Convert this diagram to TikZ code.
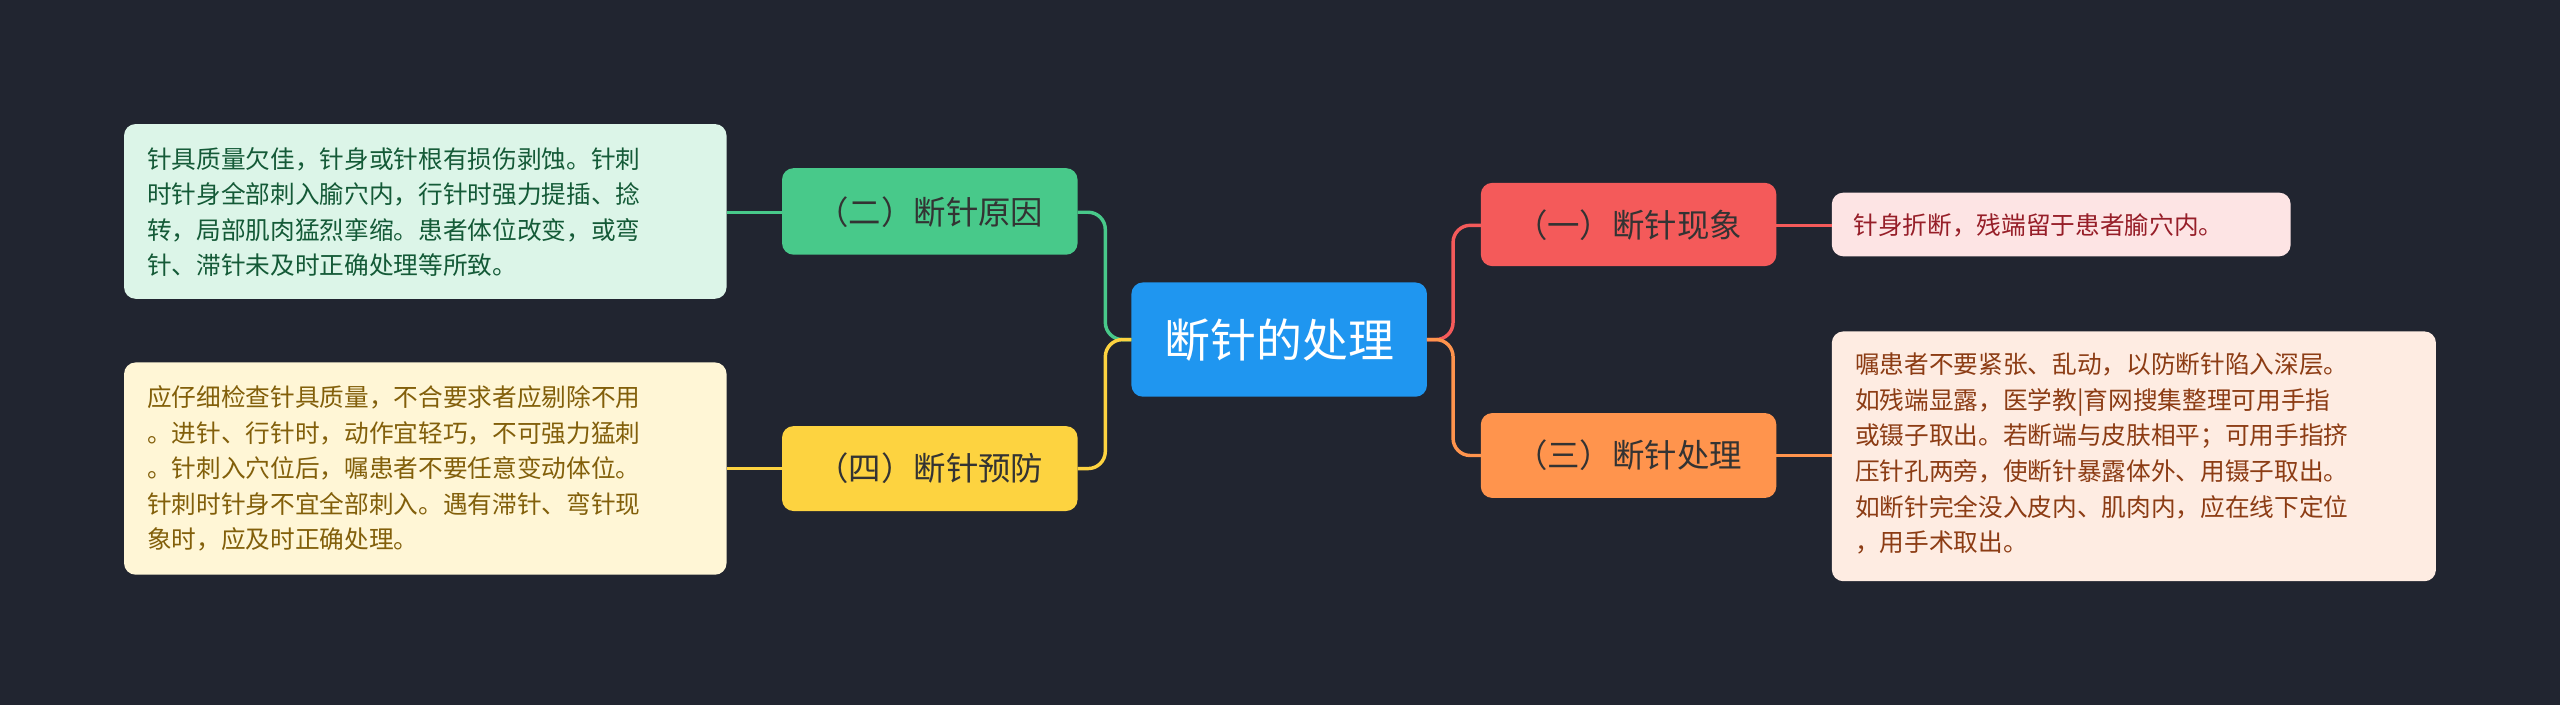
\documentclass[tikz,border=0pt]{standalone}
\usepackage{fontspec}
\setmainfont{Noto Sans CJK SC}
\begin{document}
\begin{tikzpicture}[x=0.02cm,y=-0.02cm,
  leaftxt/.style={font=\fontsize{8.6}{12.4}\selectfont},
  br/.style={font=\fontsize{11.3}{14}\selectfont,text=black!80},
  conn/.style={line width=1.2pt,rounded corners=6pt}]
\definecolor{bg}{RGB}{33,37,48}
\definecolor{cblue}{RGB}{31,150,240}
\definecolor{cred}{RGB}{244,90,90}\definecolor{cora}{RGB}{255,148,77}
\definecolor{cgrn}{RGB}{72,201,138}\definecolor{cyel}{RGB}{253,211,64}
\definecolor{f1}{RGB}{253,228,228}\definecolor{t1}{RGB}{150,30,40}
\definecolor{f3}{RGB}{254,236,226}\definecolor{t3}{RGB}{140,60,20}
\definecolor{f2}{RGB}{220,245,232}\definecolor{t2}{RGB}{20,90,55}
\definecolor{f4}{RGB}{255,246,214}\definecolor{t4}{RGB}{130,95,10}
\fill[bg] (0,0) rectangle (1568,432);
\useasboundingbox (0,0) rectangle (1568,432);
% center
\fill[cblue,rounded corners=4pt] (693,173) rectangle (874,243);
\node[text=white,font=\fontsize{16}{18}\selectfont] (c) at (783.5,208) {断针的处理};
\coordinate (cl) at (693,208); \coordinate (cr) at (874,208);
% branches
\fill[cred,rounded corners=4pt] (907,112) rectangle (1088,163);
\node[br] (b1) at (997.5,138) {（一）断针现象};
\fill[cora,rounded corners=4pt] (907,253) rectangle (1088,305);
\node[br] (b3) at (997.5,279) {（三）断针处理};
\fill[cgrn,rounded corners=4pt] (479,103) rectangle (660,156);
\node[br] (b2) at (569.5,130) {（二）断针原因};
\fill[cyel,rounded corners=4pt] (479,261) rectangle (660,313);
\node[br] (b4) at (569.5,287) {（四）断针预防};
\coordinate (b1l) at (907,138); \coordinate (b1r) at (1088,138);
\coordinate (b3l) at (907,279); \coordinate (b3r) at (1088,279);
\coordinate (b2r) at (660,130); \coordinate (b2l) at (479,130);
\coordinate (b4r) at (660,287); \coordinate (b4l) at (479,287);
% leaves
\fill[f1,rounded corners=4pt] (1122,118) rectangle (1403,157);
\node[leaftxt,text=t1,anchor=west] (l1) at (1129,138) {针身折断，残端留于患者腧穴内。};
\fill[f3,rounded corners=4pt] (1122,203) rectangle (1492,356);
\node[leaftxt,text=t3,anchor=north west,align=left] (l3) at (1130,210) {嘱患者不要紧张、乱动，以防断针陷入深层。\\如残端显露，医学教|育网搜集整理可用手指\\或镊子取出。若断端与皮肤相平；可用手指挤\\压针孔两旁，使断针暴露体外、用镊子取出。\\如断针完全没入皮内、肌肉内，应在线下定位\\，用手术取出。};
\fill[f2,rounded corners=4pt] (76,76) rectangle (445,183);
\node[leaftxt,text=t2,anchor=north west,align=left] (l2) at (84,84) {针具质量欠佳，针身或针根有损伤剥蚀。针刺\\时针身全部刺入腧穴内，行针时强力提插、捻\\转，局部肌肉猛烈挛缩。患者体位改变，或弯\\针、滞针未及时正确处理等所致。};
\fill[f4,rounded corners=4pt] (76,222) rectangle (445,352);
\node[leaftxt,text=t4,anchor=north west,align=left] (l4) at (84,230) {应仔细检查针具质量，不合要求者应剔除不用\\。进针、行针时，动作宜轻巧，不可强力猛刺\\。针刺入穴位后，嘱患者不要任意变动体位。\\针刺时针身不宜全部刺入。遇有滞针、弯针现\\象时，应及时正确处理。};
\coordinate (l1l) at (1122,138); \coordinate (l3l) at (1122,279);
\coordinate (l2r) at (445,130); \coordinate (l4r) at (445,287);
% connectors
\draw[conn,cred] (cr) -- (890,208) -- (890,138) -- (b1l);
\draw[conn,cora] (cr) -- (890,208) -- (890,279) -- (b3l);
\draw[conn,cgrn] (cl) -- (677,208) -- (677,130) -- (b2r);
\draw[conn,cyel] (cl) -- (677,208) -- (677,287) -- (b4r);
\draw[conn,cred] (b1r) -- (l1l);
\draw[conn,cora] (b3r) -- (l3l);
\draw[conn,cgrn] (b2l) -- (l2r);
\draw[conn,cyel] (b4l) -- (l4r);
\end{tikzpicture}
\end{document}
